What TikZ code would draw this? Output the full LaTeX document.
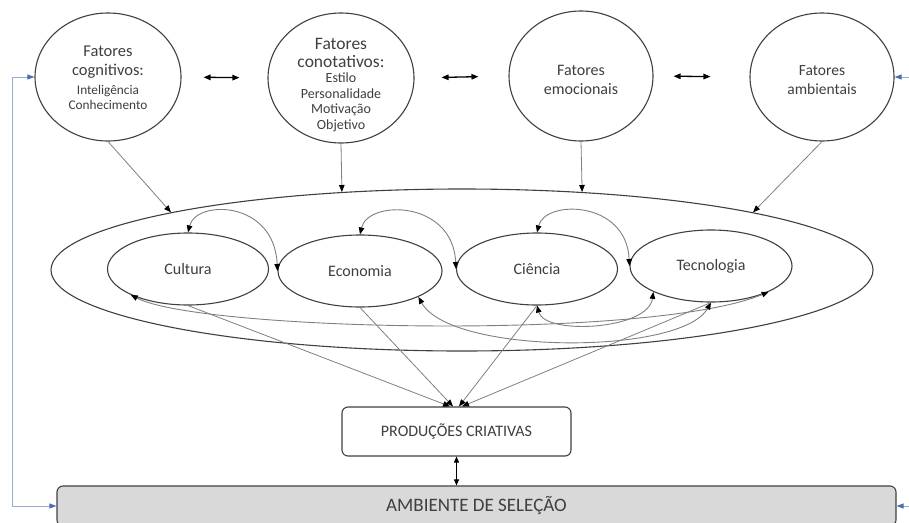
\documentclass[tikz,border=0pt]{standalone}
\usepackage{fontspec}
\setmainfont{Carlito}
\usetikzlibrary{shapes.geometric,arrows.meta}
\definecolor{edge}{HTML}{404040}
\definecolor{conn}{HTML}{808080}
\definecolor{txtc}{HTML}{3F3F3F}
\definecolor{blueln}{HTML}{9CAAD6}
\definecolor{bluetip}{HTML}{4E6BB5}
\definecolor{selfill}{HTML}{D9D9D9}
\begin{document}
\begin{tikzpicture}[x=1pt,y=-1pt,
  tip/.style={-{Triangle[length=7pt,width=5.5pt,color=black]}},
  dtip/.style={{Triangle[length=7pt,width=5.5pt,color=black]}-{Triangle[length=7pt,width=5.5pt,color=black]}},
  factor/.style={ellipse, draw=edge, line width=1.1pt, fill=white, inner sep=0pt},
  inner/.style={ellipse, draw=edge, line width=1.1pt, fill=white, inner sep=0pt,
    minimum width=161pt, minimum height=72pt, text=txtc, font=\fontsize{16}{19}\selectfont},
  bigell/.style={ellipse, draw=edge, line width=1.1pt, fill=white, inner sep=0pt,
    minimum width=822pt, minimum height=162pt},
  boxnode/.style={draw=edge, line width=1.1pt, rounded corners=6pt, inner sep=0pt, text=txtc},
  hd/.style={text=txtc, align=center, inner sep=0pt, font=\fontsize{16}{19}\selectfont},
  sub/.style={text=txtc, align=center, inner sep=0pt, font=\fontsize{13.3}{14.3}\selectfont},
  conn/.style={draw=conn, line width=0.8pt, tip},
  curv/.style={draw=conn, line width=0.9pt, dtip},
  dbl/.style={draw=black, line width=1.3pt, dtip},
  bluearr/.style={draw=blueln, line width=0.9pt, -{Triangle[length=7pt,width=5pt,color=bluetip]}},
  bluedbl/.style={draw=blueln, line width=0.9pt, {Triangle[length=7pt,width=5pt,color=bluetip]}-{Triangle[length=7pt,width=5pt,color=bluetip]}}
]
\useasboundingbox (0,0) rectangle (909,522);
\clip (0,0) rectangle (909,522);

% top factor circles
\node[factor, minimum width=146pt, minimum height=128pt] (cog) at (108,77) {};
\node[factor, minimum width=146pt, minimum height=130pt] (cono) at (341,78) {};
\node[factor, minimum width=144pt, minimum height=130pt] (emo) at (581,76) {};
\node[factor, minimum width=144pt, minimum height=128pt] (amb) at (822,77) {};

\node[hd, font=\fontsize{16.5}{19}\selectfont] (cogh) at (108,62.5) {Fatores\\cognitivos:};
\node[sub] (cogs) at (108,97.5) {Inteligência\\Conhecimento};
\node[hd, font=\fontsize{17.5}{17.5}\selectfont] (conoh) at (341,53) {Fatores\\conotativos:};
\node[sub, font=\fontsize{14}{15.6}\selectfont] (conos) at (341,102.5) {Estilo\\Personalidade\\Motivação\\Objetivo};
\node[hd] (emot) at (581,80) {Fatores\\emocionais};
\node[hd, font=\fontsize{15.5}{19}\selectfont] (ambt) at (822,80) {Fatores\\ambientais};

% big ellipse and inner ellipses
\node[bigell] (big) at (462,270) {};
\node[inner] (cult) at (188,269) {Cultura};
\node[inner, minimum width=164pt] (econ) at (360,271) {Economia};
\node[inner] (cien) at (537,269) {Ciência};
\node[inner, minimum width=162pt] (tec) at (711,266) {Tecnologia};

% boxes
\node[boxnode, fill=white, minimum width=229pt, minimum height=49pt,
  font=\fontsize{16}{19}\selectfont] (prod) at (456.5,431.5) {PRODUÇÕES CRIATIVAS};
\node[boxnode, fill=selfill, minimum width=839pt, minimum height=40pt,
  font=\fontsize{19}{22}\selectfont] (sel) at (476.5,506) {AMBIENTE DE SELEÇÃO};

% double arrows between factors
\draw[dbl, shorten <=22pt, shorten >=28pt] (cog.east) -- (cono.west);
\draw[dbl, shorten <=27pt, shorten >=30pt] (cono.east) -- (emo.west);
\draw[dbl, shorten <=20pt, shorten >=39pt] (emo.east) -- (amb.west);

% factors to big ellipse
\draw[conn] (cog.south) -- (big.north west);
\draw[conn] (cono.south) -- (big.147);
\draw[conn] (emo.south) -- (big.33);
\draw[conn] (amb.south) -- (big.north east);

% upper arcs
\draw[curv] (cult.north) .. controls +(8,-33) and +(-3,-71) .. (econ.west);
\draw[curv] (econ.north) .. controls +(8,-35) and +(-3,-69) .. (cien.west);
\draw[curv] (cien.north) .. controls +(8,-33) and +(-3,-66) .. (tec.west);

% lower arcs
\draw[curv] (cult.south west) .. controls +(69,36) and +(-118,49) .. (tec.south east);
\draw[curv] (econ.south east) .. controls +(32,58) and +(-30,53) .. (tec.south);
\draw[curv] (cien.south) .. controls +(8,30) and +(-5,38) .. (tec.south west);

% to productions
\draw[conn] (cult.south) -- ([xshift=-6.5pt]prod.north);
\draw[conn] (econ.south) -- ([xshift=-3.5pt]prod.north);
\draw[conn] (cien.south) -- ([xshift=2.5pt]prod.north);
\draw[conn] (tec.south) -- ([xshift=5.5pt]prod.north);

% productions <-> selection
\draw[draw=black, line width=0.9pt, {Triangle[length=6pt,width=5pt]}-{Triangle[length=6pt,width=5pt]}]
  (prod.south) -- (prod.south |- sel.north);

% blue feedback connectors
\coordinate (lb) at (12,506);
\coordinate (r1) at (909,77);
\coordinate (r2) at (909,506);
\draw[bluedbl] (cog.west) -| (lb) -- (sel.west);
\draw[bluearr] (r1) -- (amb.east);
\draw[bluearr] (r2) -- (sel.east);
\end{tikzpicture}
\end{document}
